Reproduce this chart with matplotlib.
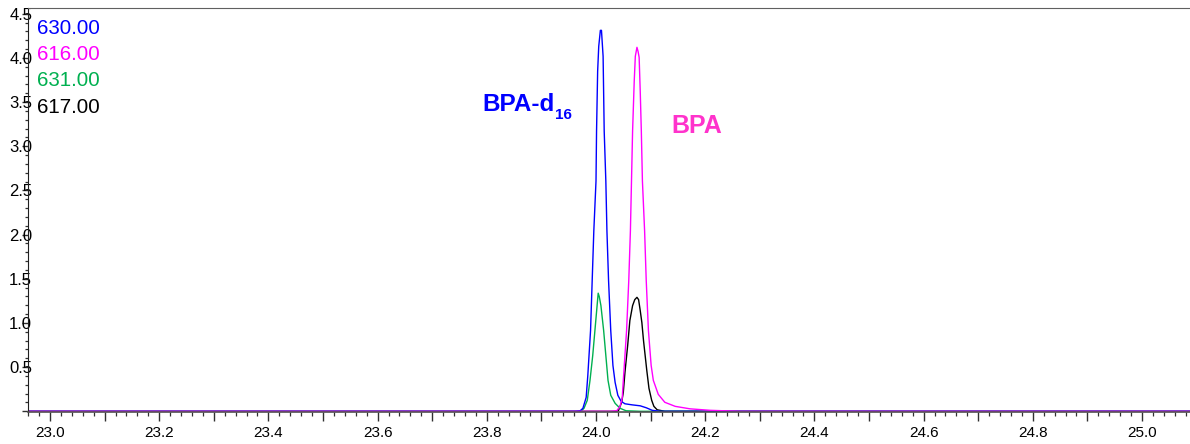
import matplotlib
matplotlib.use("Agg")
import matplotlib.pyplot as plt
from matplotlib.ticker import MultipleLocator, FuncFormatter

plt.rcParams['font.family'] = ['Liberation Sans', 'DejaVu Sans']

# Extracted ion chromatograms: retention time (min) vs. abundance
t_630 = [22.95, 23.962, 23.971, 23.976, 23.982, 23.985, 23.990, 23.993, 23.996, 24.000,
         24.001, 24.003, 24.005, 24.008, 24.010, 24.013, 24.015, 24.018, 24.020, 24.023,
         24.027, 24.031, 24.035, 24.040, 24.046, 24.053, 24.066, 24.081, 24.092, 24.103,
         24.117, 25.10]
y_630 = [0, 0, 0.006, 0.034, 0.158, 0.406, 0.914, 1.479, 2.043, 2.607,
         3.172, 3.849, 4.131, 4.312, 4.312, 4.018, 3.172, 2.607, 2.043, 1.479,
         0.914, 0.519, 0.327, 0.181, 0.113, 0.085, 0.073, 0.062, 0.040, 0.011,
         0, 0]

t_616 = [22.95, 24.026, 24.038, 24.044, 24.048, 24.050, 24.056, 24.060, 24.063, 24.065,
         24.067, 24.070, 24.072, 24.075, 24.077, 24.079, 24.081, 24.083, 24.085, 24.089,
         24.092, 24.096, 24.101, 24.105, 24.114, 24.126, 24.145, 24.172, 24.209, 24.264,
         25.10]
y_616 = [0, 0, 0.006, 0.056, 0.147, 0.350, 0.914, 1.479, 2.043, 2.607,
         3.172, 3.736, 4.018, 4.120, 4.074, 4.007, 3.623, 3.172, 2.607, 2.043,
         1.479, 0.914, 0.519, 0.350, 0.192, 0.102, 0.056, 0.028, 0.011, 0,
         0]

t_631 = [22.95, 23.968, 23.973, 23.978, 23.984, 23.989, 23.994, 23.998, 24.002, 24.004,
         24.006, 24.009, 24.014, 24.018, 24.022, 24.027, 24.035, 24.044, 24.055, 24.081,
         25.10]
y_631 = [0, 0, 0.002, 0.034, 0.124, 0.350, 0.632, 0.914, 1.196, 1.337,
         1.298, 1.196, 0.914, 0.632, 0.350, 0.181, 0.090, 0.034, 0.006, 0,
         0]

t_617 = [22.95, 24.035, 24.041, 24.047, 24.050, 24.053, 24.058, 24.062, 24.067, 24.071,
         24.075, 24.078, 24.081, 24.084, 24.087, 24.093, 24.097, 24.102, 24.106, 24.112,
         24.126, 25.10]
y_617 = [0, 0, 0.006, 0.102, 0.214, 0.440, 0.745, 1.027, 1.196, 1.264,
         1.290, 1.264, 1.140, 1.004, 0.801, 0.463, 0.260, 0.124, 0.056, 0.017,
         0, 0]

ion_labels = ["630.00", "616.00", "631.00", "617.00"]
ion_colors = ["#0000FF", "#FF00FF", "#00B050", "#000000"]

W, H = 1190, 444
fig = plt.figure(figsize=(W / 100, H / 100), dpi=100)
ax = fig.add_axes([28 / W, (H - 412) / H, 1 - 28 / W, (412 - 8) / H])

ax.plot(t_617, y_617, color=ion_colors[3], lw=1.0)
ax.plot(t_631, y_631, color=ion_colors[2], lw=1.0)
ax.plot(t_630, y_630, color=ion_colors[0], lw=1.0)
ax.plot(t_616, y_616, color=ion_colors[1], lw=1.0)

ax.set_xlim(22.9597, 25.0879)
ax.set_ylim(-0.008, 4.565)

# axes frame
ax.spines['right'].set_visible(False)
ax.spines['top'].set_color('#606060')
ax.spines['left'].set_color('#202020')
ax.spines['bottom'].set_color('#505050')
ax.spines['bottom'].set_linewidth(1.2)

# x ticks: every 0.1 min long, labels every 0.2, minor every 0.02
ax.xaxis.set_major_locator(MultipleLocator(0.1))
ax.xaxis.set_minor_locator(MultipleLocator(0.02))
ax.xaxis.set_major_formatter(FuncFormatter(
    lambda v, p: f"{v:.1f}" if round(v * 10) % 2 == 0 else ""))
ax.tick_params(axis='x', which='major', direction='out', length=6.5, width=1.0,
               color='#303030', labelsize=11, pad=3.5)
ax.tick_params(axis='x', which='minor', direction='out', length=3, width=0.9,
               color='#303030')

# y ticks: labels sit over the axis line
ax.yaxis.set_major_locator(MultipleLocator(0.5))
ax.yaxis.set_minor_locator(MultipleLocator(0.1))
ax.yaxis.set_major_formatter(FuncFormatter(lambda v, p: "" if v < 0.25 else f"{v:.1f}"))
ax.tick_params(axis='y', which='major', direction='out', length=4, width=1.0,
               color='#303030', labelsize=12, pad=-7)
ax.tick_params(axis='y', which='minor', direction='out', length=2.2, width=0.9,
               color='#303030')

# ion legend in the upper-left corner
for i, (lab, col) in enumerate(zip(ion_labels, ion_colors)):
    fig.text(37 / W, 1 - (34 + 26.2 * i) / H, lab, color=col, fontsize=14.8,
             ha='left', va='baseline')

# compound annotations
fig.text(482 / W, 1 - 111 / H, "BPA-d", color="#0000FF", fontsize=17.5,
         fontweight='bold', ha='left', va='baseline')
fig.text(555 / W, 1 - 119 / H, "16", color="#0000FF", fontsize=11,
         fontweight='bold', ha='left', va='baseline')
fig.text(671 / W, 1 - 133 / H, "BPA", color="#FF33CC", fontsize=18,
         fontweight='bold', ha='left', va='baseline')

fig.savefig("out.png", dpi=100)
